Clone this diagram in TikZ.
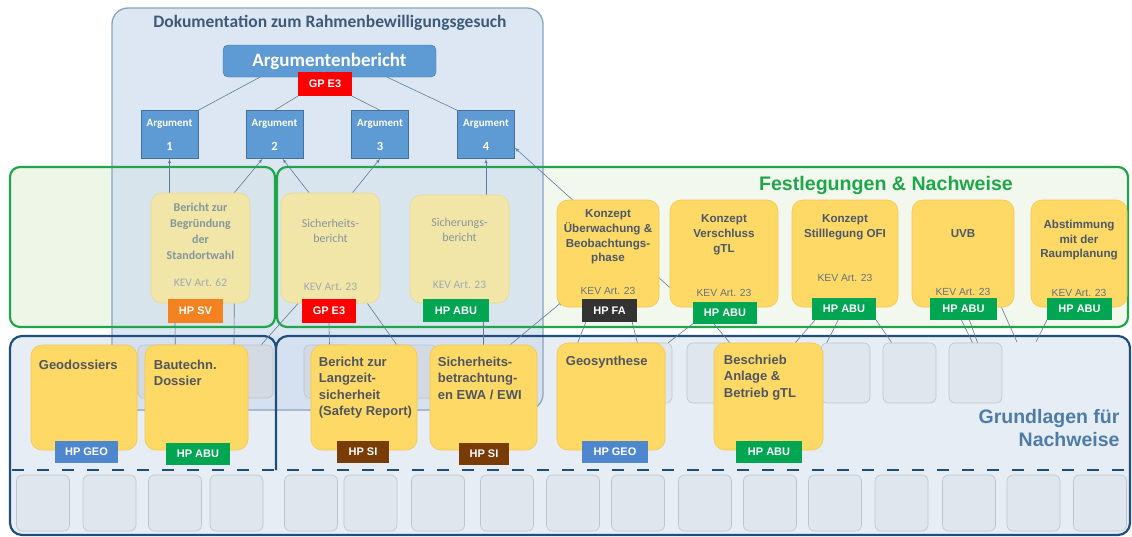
\documentclass[tikz,border=0pt]{standalone}
\usepackage{fontspec}
\setmainfont{Liberation Sans}
\newfontfamily\calibri{Carlito}
\usepackage{tikz}
\usetikzlibrary{arrows}
\usetikzlibrary{positioning}
\usetikzlibrary{backgrounds}
\definecolor{docfill}{HTML}{CFDDEE}
\definecolor{docborder}{HTML}{8BA3BD}
\definecolor{doctitle}{HTML}{3D5A78}
\definecolor{argblue}{HTML}{5E9AD3}
\definecolor{argborder}{HTML}{41719C}
\definecolor{gpred}{HTML}{FF0000}
\definecolor{frgreen}{HTML}{1FA64A}
\definecolor{grfillL}{HTML}{EEF6E8}
\definecolor{grfillR}{HTML}{F2F8EE}
\definecolor{dkblue}{HTML}{1F4E79}
\definecolor{dkfill}{HTML}{E6EDF5}
\definecolor{boxyellow}{HTML}{FFD965}
\definecolor{boxedge}{HTML}{F0C850}
\definecolor{fadeyellow}{HTML}{F1E6A8}
\definecolor{fadeedge}{HTML}{E6D993}
\definecolor{fadetext}{HTML}{84969C}
\definecolor{ktext}{HTML}{49586B}
\definecolor{btext}{HTML}{4E5660}
\definecolor{abugreen}{HTML}{00A651}
\definecolor{geoblue}{HTML}{4F87CF}
\definecolor{sibrown}{HTML}{7A3C06}
\definecolor{fadark}{HTML}{333333}
\definecolor{svorange}{HTML}{F58220}
\definecolor{greyfill}{HTML}{E0E6EE}
\definecolor{greyedge}{HTML}{B9C5D3}
\definecolor{fgreyfill}{HTML}{D3DAE3}
\definecolor{fgreyedge}{HTML}{BAC3CE}
\definecolor{connblue}{HTML}{5E7D98}
\definecolor{grundblue}{HTML}{4D7CA8}
\tikzstyle{line} = [draw=connblue, line width=0.6pt, -latex']
\tikzset{
    conn/.style={draw=connblue, line width=0.6pt},
    argbig/.style={rectangle, rounded corners=5pt, draw=argborder, fill=argblue, text=white,
        font=\calibri\bfseries\fontsize{19}{22}\selectfont, minimum width=213pt, minimum height=32pt, inner sep=0pt},
    argbox/.style={rectangle, draw=argborder, fill=argblue, text=white, align=center,
        font=\calibri\bfseries\fontsize{11}{13}\selectfont, minimum width=57pt, minimum height=48pt, inner sep=0pt},
    tag/.style={rectangle, text=white, font=\bfseries\fontsize{11}{13}\selectfont,
        minimum height=23pt, inner sep=0pt},
    ybox/.style={rectangle, rounded corners=11pt, fill=boxyellow, draw=boxedge, line width=0.6pt, inner sep=0pt},
    fadebox/.style={rectangle, rounded corners=11pt, fill=fadeyellow, draw=fadeedge, line width=0.6pt, inner sep=0pt},
    greybox/.style={rectangle, rounded corners=6pt, fill=greyfill, draw=greyedge, line width=0.6pt, inner sep=0pt},
    fgreybox/.style={rectangle, rounded corners=6pt, fill=fgreyfill, draw=fgreyedge, line width=0.6pt, inner sep=0pt},
    kontext/.style={align=center, inner sep=0pt, text=ktext, font=\bfseries\fontsize{11.6}{14.7}\selectfont},
    kev/.style={inner sep=0pt, text=ktext!85!white, font=\fontsize{10.3}{12}\selectfont},
    fadetxt/.style={align=center, inner sep=0pt, text=fadetext, font=\calibri\fontsize{12}{15.5}\selectfont},
    fadekev/.style={inner sep=0pt, text=fadetext!80!white, font=\calibri\fontsize{11.5}{13}\selectfont},
    bottext/.style={align=left, inner sep=0pt, text=btext, font=\bfseries\fontsize{13}{16.5}\selectfont},
}

\begin{document}
\begin{tikzpicture}[x=1pt, y=-1pt]
\useasboundingbox (0,0) rectangle (1132,536);

% panels
\begin{scope}[on background layer]
    \fill[white] (0,0) rectangle (1132,536);
    \fill[grfillL, rounded corners=10pt] (10,167) rectangle (275,327);
    \fill[grfillR, rounded corners=10pt] (277,167) rectangle (1128,327);
    \fill[dkfill, rounded corners=12pt] (10,336) rectangle (1130,535);
    \fill[docfill, fill opacity=0.7, rounded corners=16pt] (112,8) rectangle (543,410);
    \draw[docborder, line width=1.3pt, rounded corners=16pt] (112,8) rectangle (543,410);
    \draw[frgreen, line width=2.2pt, rounded corners=10pt] (10,167) rectangle (275,327);
    \draw[frgreen, line width=2.2pt, rounded corners=10pt] (277,167) rectangle (1128,327);
    \draw[dkblue, line width=2.2pt, rounded corners=12pt] (276,470) -- (276,336) -- (10,336) -- (10,535)
        -- (1130,535) -- (1130,336) -- (276,336) -- (276,470);
    \draw[dkblue, line width=2.4pt, dash pattern=on 12pt off 13pt] (12,470) -- (1128,470);
\end{scope}

% Dokumentation
\node[text=doctitle, font=\calibri\bfseries\fontsize{17.5}{20}\selectfont] (title) at (330,23) {Dokumentation zum Rahmenbewilligungsgesuch};
\node[argbig] (argb) at (329.5,61) {Argumentenbericht};
\node[tag, fill=gpred, minimum width=54pt, minimum height=24pt] (gpa) at (325,84) {GP E3};
\node[argbox] (arg1) at (169.5,134.5) {Argument\\[11pt]{\fontsize{12.5}{13}\selectfont 1}};
\node[argbox] (arg2) at (274.5,134.5) {Argument\\[11pt]{\fontsize{12.5}{13}\selectfont 2}};
\node[argbox] (arg3) at (380,134.5) {Argument\\[11pt]{\fontsize{12.5}{13}\selectfont 3}};
\node[argbox] (arg4) at (486,134.5) {Argument\\[11pt]{\fontsize{12.5}{13}\selectfont 4}};

% Festlegungen & Nachweise
\node[text=frgreen, font=\bfseries\fontsize{19.6}{22}\selectfont] (festl) at (886,185) {Festlegungen \& Nachweise};

\node[fadebox, minimum width=99pt, minimum height=110pt] (bgr) at (200.5,248) {};
\node[fadetxt, font=\calibri\bfseries\fontsize{12}{16}\selectfont, below=10pt of bgr.north] (bgrt) {Bericht zur\\Begründung\\der\\Standortwahl};
\node[fadekev] (bgrk) at ([yshift=21pt]bgr.south) {KEV Art. 62};
\node[tag, fill=svorange, minimum width=55pt, minimum height=24pt] (hpsv) at (195.5,311) {HP SV};

\node[fadebox, minimum width=99pt, minimum height=110pt] (shb) at (330.5,248) {};
\node[fadetxt, below=26pt of shb.north] (shbt) {Sicherheits-\\bericht};
\node[fadekev] (shbk) at ([yshift=16pt]shb.south) {KEV Art. 23};
\node[tag, fill=gpred, minimum width=54pt, minimum height=24pt] (gpb) at (329,311) {GP E3};

\node[fadebox, minimum width=99pt, minimum height=108pt] (sgb) at (459.5,249) {};
\node[fadetxt, below=23pt of sgb.north] (sgbt) {Sicherungs-\\bericht};
\node[fadekev] (sgbk) at ([yshift=18pt]sgb.south) {KEV Art. 23};
\node[tag, fill=abugreen, minimum width=66pt] (abu1) at (456,310.5) {HP ABU};

\node[ybox, minimum width=102pt, minimum height=107pt] (ueb) at (608,253.5) {};
\node[kontext, below=10pt of ueb.north] (uebt) {Konzept\\Überwachung \&\\Beobachtungs-\\phase};
\node[kev] (uebk) at ([yshift=16pt]ueb.south) {KEV Art. 23};
\node[tag, fill=fadark, minimum width=55pt] (hpfa) at (609.5,310.5) {HP FA};

\node[ybox, minimum width=108pt, minimum height=107pt] (vsl) at (724,253.5) {};
\node[kontext, below=15pt of vsl.north] (vslt) {Konzept\\Verschluss\\gTL};
\node[kev] (vslk) at ([yshift=14pt]vsl.south) {KEV Art. 23};
\node[tag, fill=abugreen, minimum width=64pt, minimum height=22pt] (abu2) at (725,312.5) {HP ABU};

\node[ybox, minimum width=106pt, minimum height=107pt] (stl) at (845,253.5) {};
\node[kontext, below=15pt of stl.north] (stlt) {Konzept\\Stilllegung OFI};
\node[kev] (stlk) at ([yshift=29pt]stl.south) {KEV Art. 23};
\node[tag, fill=abugreen, minimum width=64pt, minimum height=22pt] (abu3) at (844,309) {HP ABU};

\node[ybox, minimum width=102pt, minimum height=107pt] (uvb) at (963,253.5) {};
\node[kontext, below=30pt of uvb.north] (uvbt) {UVB};
\node[kev] (uvbk) at ([yshift=15pt]uvb.south) {KEV Art. 23};
\node[tag, fill=abugreen, minimum width=67pt, minimum height=22pt] (abu4) at (963.5,309) {HP ABU};

\node[ybox, minimum width=96pt, minimum height=107pt] (abs) at (1079,253.5) {};
\node[kontext, below=20pt of abs.north] (abst) {Abstimmung\\mit der\\Raumplanung};
\node[kev] (absk) at ([yshift=14pt]abs.south) {KEV Art. 23};
\node[tag, fill=abugreen, minimum width=65pt, minimum height=22pt] (abu5) at (1079.5,309) {HP ABU};

% Grundlagen fuer Nachweise
\node[fgreybox, minimum width=50pt, minimum height=53pt] (fg1) at (163,371.5) {};
\node[fgreybox, minimum width=51pt, minimum height=53pt] (fg2) at (247.5,371.5) {};
\node[fgreybox, minimum width=51pt, minimum height=53pt] (fg3) at (329.5,371.5) {};
\node[fgreybox, minimum width=49pt, minimum height=53pt] (fg4) at (412.5,371.5) {};
\node[greybox, minimum width=52pt, minimum height=60pt] (g1) at (646,373) {};
\node[greybox, minimum width=50pt, minimum height=60pt] (g2) at (712,373) {};
\node[greybox, minimum width=49pt, minimum height=60pt] (g3) at (845.5,373) {};
\node[greybox, minimum width=53pt, minimum height=60pt] (g4) at (909.5,373) {};
\node[greybox, minimum width=53pt, minimum height=60pt] (g5) at (975.5,373) {};
\foreach \x [count=\i] in {43,109.5,175,236.5,311,370.5,438,507,573,638,705,770,835,901.5,969,1033.5,1100}
    \node[greybox, minimum width=53pt, minimum height=56pt] (row\i) at (\x,503) {};

\node[ybox, minimum width=106pt, minimum height=105pt] (geo) at (84,397.5) {};
\node[bottext, anchor=north west] (geot) at ([xshift=8pt,yshift=-15pt]geo.north west) {Geodossiers};
\node[tag, fill=geoblue, minimum width=63pt, minimum height=22pt] (hpgeo1) at (86.5,452) {HP GEO};

\node[ybox, minimum width=103pt, minimum height=105pt] (btd) at (196.5,397.5) {};
\node[bottext, anchor=north west] (btdt) at ([xshift=9pt,yshift=-15pt]btd.north west) {Bautechn.\\Dossier};
\node[tag, fill=abugreen, minimum width=64pt, minimum height=22pt] (abu6) at (198,453.5) {HP ABU};

\node[ybox, minimum width=106pt, minimum height=105pt] (lzs) at (364,397.5) {};
\node[bottext, anchor=north west] (lzst) at ([xshift=8pt,yshift=-12pt]lzs.north west) {Bericht zur\\Langzeit-\\sicherheit\\(Safety Report)};
\node[tag, fill=sibrown, minimum width=52pt, minimum height=22pt] (hpsi1) at (363,451.5) {HP SI};

\node[ybox, minimum width=107pt, minimum height=105pt] (sbt) at (483.5,397.5) {};
\node[bottext, anchor=north west] (sbtt) at ([xshift=8pt,yshift=-12pt]sbt.north west) {Sicherheits-\\betrachtung-\\en EWA / EWI};
\node[tag, fill=sibrown, minimum width=50pt, minimum height=22pt] (hpsi2) at (484,454) {HP SI};

\node[ybox, minimum width=108pt, minimum height=107pt] (gsy) at (611,396.5) {};
\node[bottext, anchor=north west] (gsyt) at ([xshift=9pt,yshift=-13pt]gsy.north west) {Geosynthese};
\node[tag, fill=geoblue, minimum width=66pt, minimum height=22pt] (hpgeo2) at (615,451.5) {HP GEO};

\node[ybox, minimum width=109pt, minimum height=107pt] (bsr) at (768.5,396.5) {};
\node[bottext, anchor=north west] (bsrt) at ([xshift=10pt,yshift=-12pt]bsr.north west) {Beschrieb\\Anlage \&\\Betrieb gTL};
\node[tag, fill=abugreen, minimum width=66pt, minimum height=22pt] (abu7) at (769,451.5) {HP ABU};

\node[align=right, text=grundblue, font=\bfseries\fontsize{19.5}{23}\selectfont, anchor=east] (grund) at (1123,428.5) {Grundlagen für\\Nachweise};

\coordinate (f1) at (1017,342);
\coordinate (f2) at (1036,342);

% connectors
\begin{scope}[on background layer]
    \draw[conn] (arg1.north east) -- ([xshift=37pt]argb.south west);
    \draw[conn] (arg2.north) -- (gpa.south west);
    \draw[conn] (arg3.north) -- (gpa.south east);
    \draw[conn] (arg4.north west) -- ([xshift=-49pt]argb.south east);
    \path[line] (bgr.north -| arg1.south) -- (arg1.south);
    \path[line] ([xshift=-16pt]bgr.north east) -- ([xshift=-12pt]arg2.south);
    \path[line] ([xshift=-21.5pt]shb.north) -- ([xshift=8pt]arg2.south);
    \path[line] ([xshift=22pt]shb.north) -- (arg3.south);
    \path[line] (sgb.north -| arg4.south) -- (arg4.south);
    \path[line] ([yshift=-34pt]vsl.west) -- ([yshift=11pt]arg4.south east);
    \path[line] ([xshift=-27pt]sbt.north east) -- ([xshift=6pt,yshift=6pt]ueb.south west);
    \path[line] (f1) -- (abu4.north east);
    \draw[conn] ([xshift=-13pt]fg1.north east) -- ([xshift=-20.5pt]hpsv.south);
    \draw[conn] ([xshift=-13.5pt]fg2.north) -- ([xshift=-16pt]bgr.south east);
    \draw[conn] ([xshift=17.5pt]shb.south west) -- ([xshift=-12pt]fg2.north east);
    \draw[conn] (gpb.south) -- (fg3.north);
    \draw[conn] ([xshift=-13pt]shb.south east) -- ([xshift=9pt]fg4.north west);
    \draw[conn] (sbt.north) -- (sbt.north |- abu1.south);
    \draw[conn] ([xshift=4pt]hpfa.south west) -- ([xshift=21pt]gsy.north west);
    \draw[conn] ([xshift=-5pt]hpfa.south east) -- ([xshift=-28pt]gsy.north east);
    \draw[conn] (abu2.south west) -- ([xshift=-4pt]g1.north east);
    \draw[conn] ([xshift=21pt]abu2.south west) -- ([xshift=16pt]bsr.north west);
    \draw[conn] ([xshift=3pt]abu3.south west) -- ([xshift=-28pt]bsr.north east);
    \draw[conn] ([xshift=-6pt]abu3.south) -- ([xshift=6pt]g3.north west);
    \draw[conn] (abu3.south east) -- ([xshift=9pt]g4.north west);
    \draw[conn] ([xshift=-2pt]abu4.south) -- ([xshift=-3pt]g5.north);
    \draw[conn] ([xshift=6pt]abu4.south) -- ([xshift=2pt]g5.north);
    \draw[conn] (abu5.south west) -- (f2);
\end{scope}
\end{tikzpicture}
\end{document}
